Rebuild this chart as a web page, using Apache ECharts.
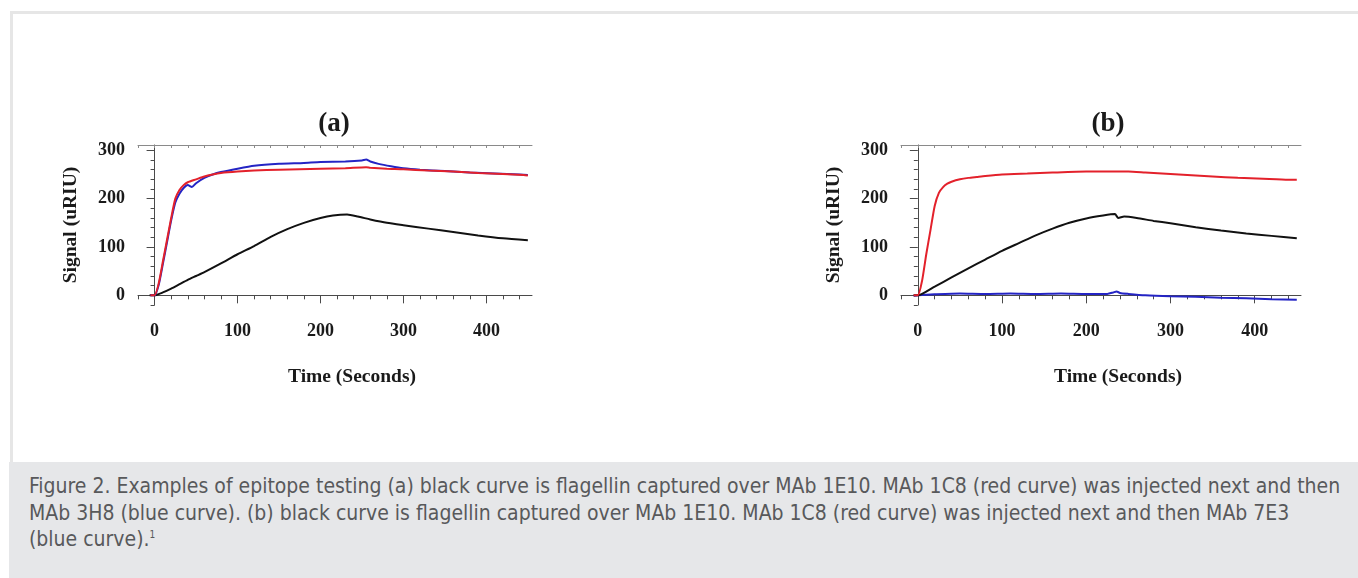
<!DOCTYPE html>
<html>
<head>
<meta charset="utf-8">
<script src="https://cdn.jsdelivr.net/npm/echarts@6/dist/echarts.min.js"></script>
<style>
  html, body { margin: 0; padding: 0; background: #ffffff; }
  #wrap { position: relative; width: 1358px; height: 578px; overflow: hidden; background: #fff; }
  #frameTop { position: absolute; left: 10px; top: 11px; width: 1348px; height: 3px; background: #e6e6e6; }
  #frameLeft { position: absolute; left: 10px; top: 11px; width: 3px; height: 452px; background: #e6e6e6; }
  #caption { position: absolute; left: 9px; top: 462px; width: 1349px; height: 116px; background: #e6e7e9;
             font-family: "Liberation Sans Narrow", "DejaVu Sans Condensed", "Open Sans", sans-serif;
             font-size: 21px; color: #58595b; line-height: 26.5px; white-space: nowrap; }
  #caption .txt { position: absolute; left: 20px; top: 11px; }
  #caption sup { font-size: 10px; vertical-align: 8px; line-height: 0; }
  #chart { position: absolute; left: 0; top: 0; width: 1358px; height: 462px; }
</style>
</head>
<body>
<div id="wrap">
  <div id="frameTop"></div>
  <div id="frameLeft"></div>
  <div id="chart"></div>
  <div id="caption"><div class="txt">Figure 2. Examples of epitope testing (a) black curve is flagellin captured over MAb 1E10. MAb 1C8 (red curve) was injected next and then<br>MAb 3H8 (blue curve). (b) black curve is flagellin captured over MAb 1E10. MAb 1C8 (red curve) was injected next and then MAb 7E3<br>(blue curve).<sup>1</sup></div></div>
</div>
<script>
// ---------- data (time in seconds, signal in uRIU) ----------
const panelTitles = ["(a)", "(b)"];
const xTickLabels = [0, 100, 200, 300, 400];
const yTickLabels = [0, 100, 200, 300];

// Panel (a)
const timeBlackA = [-6, 0, 10, 20, 30, 40, 50, 60, 80, 100, 120, 140, 160, 180, 200, 215, 232, 245, 260, 280, 300, 330, 360, 390, 420, 450];
const blackA =     [0, 0, 6, 14, 23, 32, 40, 48, 66, 85, 102, 121, 137, 150, 160, 165, 167, 163, 157, 150, 145, 138, 131, 124, 118, 114];

const timeBlueA = [-5, 0, 5, 10, 15, 20, 25, 30, 35, 40, 45, 50, 60, 70, 80, 100, 120, 150, 180, 200, 230, 250, 255, 260, 270, 285, 300, 320, 350, 380, 410, 440, 450];
const blueA =     [0, 0, 22, 65, 110, 155, 192, 210, 222, 228, 224, 232, 243, 250, 255, 262, 268, 272, 274, 276, 277, 279, 281, 277, 272, 267, 263, 260, 257, 254, 252, 250, 249];

const timeRedA = [-5, 0, 5, 10, 15, 20, 25, 30, 35, 40, 50, 60, 70, 80, 100, 120, 150, 200, 230, 255, 260, 280, 300, 330, 360, 390, 420, 445, 450];
const redA =     [0, 0, 25, 70, 115, 160, 200, 218, 228, 234, 240, 246, 250, 253, 256, 258, 260, 262, 263, 265, 264, 262, 261, 258, 256, 253, 251, 249, 248];

// Panel (b)
const timeBlackB = [-5, 0, 20, 40, 60, 80, 100, 120, 140, 160, 180, 200, 220, 234, 238, 245, 260, 280, 300, 330, 360, 390, 420, 450];
const blackB =     [0, 0, 18, 37, 56, 74, 92, 108, 124, 138, 150, 159, 165, 168, 160, 163, 160, 154, 149, 141, 134, 128, 123, 118];

const timeBlueB = [-5, 0, 20, 50, 80, 110, 140, 170, 200, 225, 232, 236, 240, 250, 270, 300, 330, 360, 390, 420, 450];
const blueB =     [-1, 0, 2, 4, 3, 4, 3, 4, 3, 3, 6, 8, 5, 3, 0, -2, -3, -5, -6, -8, -9];

const timeRedB = [-5, 0, 5, 10, 15, 20, 25, 30, 35, 40, 50, 60, 70, 80, 100, 130, 160, 200, 230, 250, 270, 290, 320, 350, 380, 410, 440, 450];
const redB =     [0, 0, 30, 85, 135, 185, 212, 224, 231, 235, 240, 243, 245, 247, 250, 252, 254, 256, 256, 256, 254, 252, 249, 246, 243, 241, 239, 239];

// ---------- layout / style ----------
const X_MIN = -20, X_MAX = 455, Y_MIN = -20, Y_MAX = 311;
const grids = [
  { left: 138, top: 145, width: 394, height: 160 },
  { left: 901, top: 145, width: 400, height: 160 }
];
const titleShift = [-8, 0];
const AX = '#4a4a4a';
const SERIF = '"Liberation Serif", "DejaVu Serif", serif';
const COL_BLACK = '#111111', COL_RED = '#e3212b', COL_BLUE = '#2424c4';
const LABEL_STYLE = { fontFamily: SERIF, fontWeight: 'bold', fontSize: 18, color: '#1a1a1a' };
const NAME_STYLE = { fontFamily: SERIF, fontWeight: 'bold', fontSize: 19.5, color: '#1a1a1a' };

function range(a, b, s) { const r = []; for (let v = a; v <= b; v += s) r.push(v); return r; }
const xMinorVals = range(-20, 440, 20).filter(v => v % 100 !== 0);
const xAllVals = range(-20, 440, 20);
const yMinorVals = range(-20, 300, 20).filter(v => v % 100 !== 0);

const xAxis = [], yAxis = [], series = [], title = [];
const idx = [];

grids.forEach((g, gi) => {
  const base = { gridIndex: gi, type: 'value', min: X_MIN, max: X_MAX, splitLine: { show: false } };
  const xi = xAxis.length;
  xAxis.push(Object.assign({}, base, {
    position: 'bottom',
    axisLine: { show: true, lineStyle: { color: AX, width: 1 } },
    axisTick: { show: false },
    axisLabel: Object.assign({ show: true, customValues: xTickLabels, margin: 17 }, LABEL_STYLE),
    name: 'Time (Seconds)', nameLocation: 'middle', nameGap: 62,
    nameTextStyle: Object.assign({ padding: [0, 0, 0, 34] }, NAME_STYLE)
  }));
  xAxis.push(Object.assign({}, base, {
    position: 'bottom', offset: -4,
    axisLine: { show: false }, axisLabel: { show: false },
    axisTick: { show: true, customValues: xTickLabels, length: 8, lineStyle: { color: AX } }
  }));
  xAxis.push(Object.assign({}, base, {
    position: 'bottom', offset: -2,
    axisLine: { show: false }, axisLabel: { show: false },
    axisTick: { show: true, customValues: xMinorVals, length: 4, lineStyle: { color: AX } }
  }));
  xAxis.push(Object.assign({}, base, {
    position: 'top',
    axisLine: { show: true, lineStyle: { color: '#8a8a8a', width: 1 } }, axisLabel: { show: false },
    axisTick: { show: true, inside: true, customValues: xAllVals, length: 3, lineStyle: { color: '#8a8a8a' } }
  }));

  const ybase = { gridIndex: gi, type: 'value', min: Y_MIN, max: Y_MAX, splitLine: { show: false } };
  const yi = yAxis.length;
  yAxis.push(Object.assign({}, ybase, {
    position: 'left',
    axisLine: { show: true, lineStyle: { color: AX, width: 1 } },
    axisTick: { show: false },
    axisLabel: Object.assign({ show: true, customValues: yTickLabels, margin: 13 }, LABEL_STYLE),
    name: 'Signal (uRIU)', nameLocation: 'middle', nameGap: 57,
    nameTextStyle: NAME_STYLE
  }));
  yAxis.push(Object.assign({}, ybase, {
    position: 'left', offset: -4,
    axisLine: { show: false }, axisLabel: { show: false },
    axisTick: { show: true, customValues: yTickLabels, length: 8, lineStyle: { color: AX } }
  }));
  yAxis.push(Object.assign({}, ybase, {
    position: 'left', offset: -2,
    axisLine: { show: false }, axisLabel: { show: false },
    axisTick: { show: true, customValues: yMinorVals, length: 4, lineStyle: { color: AX } }
  }));
  idx.push({ xi, yi });

  title.push({
    text: panelTitles[gi], left: g.left + g.width / 2 + 2 + titleShift[gi], top: 106, textAlign: 'center',
    textStyle: { fontFamily: SERIF, fontWeight: 'bold', fontSize: 27, color: '#1a1a1a' }
  });
});

function pairs(ts, vs) { return ts.map((t, i) => [t, vs[i]]); }
function line(gi, name, ts, vs, color) {
  return {
    type: 'line', name, xAxisIndex: idx[gi].xi, yAxisIndex: idx[gi].yi,
    data: pairs(ts, vs), showSymbol: false, symbol: 'none', smooth: 0.2,
    lineStyle: { color, width: 2 }, animation: false
  };
}
series.push(line(0, 'black A', timeBlackA, blackA, COL_BLACK));
series.push(line(0, 'blue A', timeBlueA, blueA, COL_BLUE));
series.push(line(0, 'red A', timeRedA, redA, COL_RED));
series.push(line(1, 'blue B', timeBlueB, blueB, COL_BLUE));
series.push(line(1, 'black B', timeBlackB, blackB, COL_BLACK));
series.push(line(1, 'red B', timeRedB, redB, COL_RED));

const chart = echarts.init(document.getElementById('chart'), null, { renderer: 'canvas' });
chart.setOption({
  animation: false,
  title,
  grid: grids.map(g => Object.assign({ containLabel: false }, g)),
  xAxis, yAxis, series
});
</script>
</body>
</html>
